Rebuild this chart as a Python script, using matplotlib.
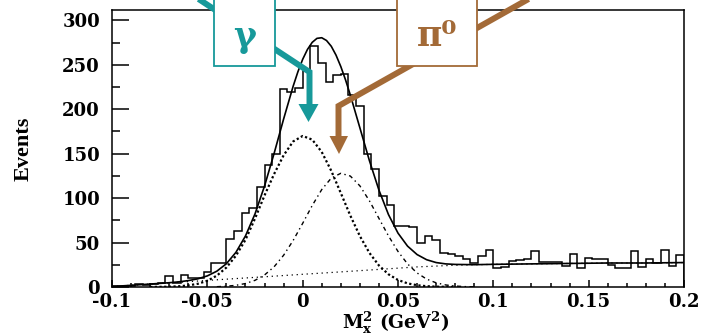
import matplotlib
matplotlib.use("Agg")
import matplotlib.pyplot as plt
from matplotlib.patches import Rectangle, Polygon
from matplotlib.ticker import MultipleLocator
import numpy as np

# ---------------- data ----------------
bin_start = -0.1
bin_width = 0.004
counts = [1, 1, 1, 3, 2, 3, 4, 12, 4, 13,
          10, 10, 17, 27, 27, 54, 63, 83, 89, 112,
          137, 150, 223, 219, 224, 243, 271, 252, 231, 238,
          240, 216, 204, 150, 133, 102, 92, 69, 69, 67,
          49, 57, 53, 38, 37, 35, 31, 27, 35, 42,
          21, 23, 29, 30, 31, 41, 28, 28, 28, 24,
          37, 21, 33, 31, 32, 25, 21, 21, 41, 23,
          32, 27, 42, 24, 36]

total_x = [-0.1, -0.09, -0.08, -0.07, -0.065, -0.06, -0.055, -0.05, -0.045, -0.04,
           -0.035, -0.03, -0.025, -0.02, -0.015, -0.01, -0.005, -0.0025, 0.0, 0.0025,
           0.005, 0.0075, 0.01, 0.0125, 0.015, 0.0175, 0.02, 0.0225, 0.025, 0.03,
           0.035, 0.04, 0.045, 0.05, 0.055, 0.06, 0.065, 0.07, 0.075, 0.08,
           0.09, 0.1, 0.12, 0.14, 0.16, 0.18, 0.2]
total_y = [0.5, 1.9, 3.3, 4.8, 5.8, 7.2, 9.2, 12.5, 17.8, 26.2,
           39.0, 57.4, 82.2, 113.6, 150.1, 188.9, 225.8, 242.1, 256.1, 267.2,
           275.2, 279.7, 280.4, 277.3, 270.8, 260.8, 248.0, 232.9, 215.9, 179.1,
           142.2, 109.0, 81.5, 60.6, 46.0, 36.5, 30.7, 27.5, 26.0, 25.4,
           25.1, 25.5, 26.0, 26.5, 27.0, 27.0, 27.5]

gamma_x = [-0.08, -0.07, -0.065, -0.06, -0.055, -0.05, -0.045, -0.04, -0.035, -0.03,
           -0.025, -0.02, -0.015, -0.01, -0.005, 0.0, 0.005, 0.01, 0.015, 0.02,
           0.025, 0.03, 0.035, 0.04, 0.045, 0.05, 0.055, 0.06, 0.065, 0.07, 0.08]
gamma_y = [0.05, 0.34, 0.8, 1.75, 3.6, 7.0, 12.8, 21.9, 35.2, 53.1,
           77.0, 103.0, 127.0, 148.1, 163.7, 169.9, 165.8, 151.9, 130.7, 105.7,
           80.3, 57.3, 38.4, 24.2, 14.3, 7.9, 4.1, 2.0, 0.9, 0.4, 0.06]

pi0_x = [-0.045, -0.04, -0.035, -0.03, -0.025, -0.02, -0.015, -0.01, -0.005, 0.0,
         0.005, 0.01, 0.015, 0.02, 0.025, 0.03, 0.035, 0.04, 0.045, 0.05,
         0.055, 0.06, 0.065, 0.07, 0.075, 0.08, 0.085, 0.09]
pi0_y = [0.35, 0.87, 1.9, 3.9, 7.5, 13.5, 22.7, 35.7, 52.3, 71.6,
         91.6, 109.6, 122.5, 127.9, 124.8, 113.8, 97.0, 77.2, 57.5, 40.0,
         26.0, 15.8, 8.9, 4.7, 2.3, 1.1, 0.45, 0.17]

bg_x = [-0.1, -0.08, -0.06, -0.04, -0.02, 0.0, 0.02, 0.04, 0.06, 0.08,
        0.1, 0.12, 0.14, 0.16, 0.18, 0.2]
bg_y = [0.5, 3.3, 6.0, 8.8, 11.5, 14.3, 17.0, 19.8, 22.6, 24.5,
        25.5, 26.0, 26.5, 27.0, 27.0, 27.5]

x_ticks = [-0.1, -0.05, 0.0, 0.05, 0.1, 0.15, 0.2]
x_ticklabels = ["-0.1", "-0.05", "0", "0.05", "0.1", "0.15", "0.2"]
y_ticks = [0, 50, 100, 150, 200, 250, 300]
y_ticklabels = ["0", "50", "100", "150", "200", "250", "300"]

# ---------------- figure ----------------
plt.rcParams["mathtext.fontset"] = "dejavuserif"
W, H = 707, 336
fig = plt.figure(figsize=(W / 100, H / 100), dpi=100)
ax = fig.add_axes([112 / W, 49 / H, 572 / W, 277 / H])

edges = bin_start + bin_width * np.arange(len(counts) + 1)
ax.stairs(counts, edges, color="black", lw=1.1, zorder=5)

ax.plot(bg_x, bg_y, color="black", lw=0.9, ls=(0, (1, 3)), zorder=3)
ax.plot(pi0_x, pi0_y, color="black", lw=1.0, ls=(0, (3, 2.5, 1, 2.5)), zorder=3)
ax.plot(gamma_x, gamma_y, color="black", lw=1.6, ls=(0, (1, 1.1)), zorder=3)
ax.plot(total_x, total_y, color="black", lw=1.2, zorder=4)

ax.set_xlim(-0.1, 0.2)
ax.set_ylim(0, 311.6)

tick_font = dict(family="DejaVu Serif", weight="bold", size=13)
ax.set_xticks(x_ticks)
ax.set_xticklabels(x_ticklabels, fontdict=tick_font)
ax.set_yticks(y_ticks)
ax.set_yticklabels(y_ticklabels, fontdict=tick_font)
ax.xaxis.set_minor_locator(MultipleLocator(0.01))
ax.yaxis.set_minor_locator(MultipleLocator(25))
ax.tick_params(axis="y", which="major", direction="in", length=12, width=1.1, pad=8.6)
ax.tick_params(axis="y", which="minor", direction="in", length=6, width=1.1)
ax.tick_params(axis="x", which="major", direction="in", length=5.2, width=1.1, pad=4.0)
ax.tick_params(axis="x", which="minor", direction="in", length=2.8, width=1.1)
ax.tick_params(top=False, right=False, which="both")
for s in ax.spines.values():
    s.set_linewidth(1.1)

fig.text(24 / W, 1 - 148.5 / H, "Events", rotation=90, ha="center", va="center",
         family="Liberation Serif", weight="bold", fontsize=16)
fig.text(396 / W, 1 - 329 / H,
         r"$\mathbf{M}_{\mathbf{x}}^{\mathbf{2}}$ (GeV$^{\mathbf{2}}$)",
         ha="center", va="baseline", family="DejaVu Serif", weight="bold", fontsize=13.5)

# ---------------- annotations (figure pixel overlay) ----------------
ov = fig.add_axes([0, 0, 1, 1])
ov.set_xlim(0, W)
ov.set_ylim(H, 0)
ov.axis("off")
ov.patch.set_alpha(0)

teal = "#17999a"
brown = "#a36a37"

ov.plot([194, 309.5, 309.5], [-4, 72, 106], color=teal, lw=4.3,
        solid_joinstyle="miter", solid_capstyle="butt", zorder=10)
ov.add_patch(Polygon([[298.5, 104], [318.5, 104], [308.5, 122]], closed=True,
                     color=teal, lw=0, zorder=10))
ov.add_patch(Rectangle((214, -5), 61, 71, facecolor="white", edgecolor=teal,
                       lw=1.3, zorder=11))
ov.text(244.5, 47, "\u03b3", color=teal, ha="center", va="baseline",
        family="DejaVu Serif", weight="bold", fontsize=25, zorder=12)

ov.plot([533, 338.5, 338.5], [-3.5, 106, 138], color=brown, lw=4.3,
        solid_joinstyle="miter", solid_capstyle="butt", zorder=10)
ov.add_patch(Polygon([[329.5, 136], [348, 136], [339, 154]], closed=True,
                     color=brown, lw=0, zorder=10))
ov.add_patch(Rectangle((397, -5), 80, 71, facecolor="white", edgecolor=brown,
                       lw=1.3, zorder=11))
ov.text(437, 46, "\u03c0\u2070", color=brown, ha="center", va="baseline",
        family="DejaVu Serif", weight="bold", fontsize=25, zorder=12)

fig.savefig("out.png", dpi=100)
